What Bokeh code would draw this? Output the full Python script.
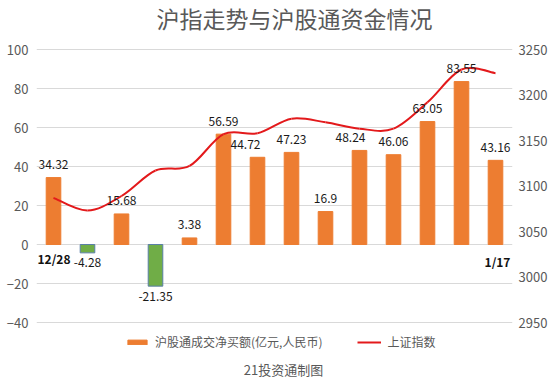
from bokeh.plotting import figure
from bokeh.models import (Range1d, LinearAxis, FixedTicker, Legend, LegendItem,
                          Label, ColumnDataSource)
from bokeh.core.properties import value
from bokeh.embed import file_html
from bokeh.resources import INLINE

# ---------------- data ----------------
dates = ["12/28", "12/29", "1/2", "1/3", "1/4", "1/5", "1/8", "1/9",
         "1/10", "1/11", "1/12", "1/15", "1/16", "1/17"]
net_buy = [34.32, -4.28, 15.68, -21.35, 3.38, 56.59, 44.72, 47.23,
           16.9, 48.24, 46.06, 63.05, 83.55, 43.16]
sse_index = [3087, 3073, 3089, 3117, 3122, 3157, 3158, 3174,
             3170, 3163, 3163, 3192, 3228, 3224]
left_ticks = [-40, -20, 0, 20, 40, 60, 80, 100]
right_ticks = [2950, 3000, 3050, 3100, 3150, 3200, 3250]

title_text = "沪指走势与沪股通资金情况"
bar_name = "沪股通成交净买额(亿元,人民币)"
line_name = "上证指数"
footer_text = "21投资通制图"

FONT = "Noto Sans CJK SC"
GREY = "#595959"
ORANGE = "#ED7D31"
GREEN = "#70AD47"
RED = "#E3191B"

W, H = 557, 386
PLOT_TOP, PLOT_BOTTOM = 49, 322          # pixel rows of the 100 / -40 gridlines
n = len(dates)
idx = list(range(n))

# the frame spans the full height; the value ranges are padded so that the
# gridlines land at PLOT_TOP / PLOT_BOTTOM and title/legend fit inside it
def padded(lo, hi):
    per_px = (hi - lo) / (PLOT_BOTTOM - PLOT_TOP)
    return Range1d(lo - (H - PLOT_BOTTOM) * per_px, hi + PLOT_TOP * per_px)

p = figure(width=W, height=H, output_backend="svg", toolbar_location=None,
           x_range=Range1d(-0.5, n - 0.5),
           y_range=padded(left_ticks[0], left_ticks[-1]),
           x_axis_location=None, y_axis_location=None,
           min_border_left=36, min_border_right=45,
           min_border_top=0, min_border_bottom=0)
p.outline_line_color = None
p.background_fill_color = "white"
p.border_fill_color = "white"
p.extra_y_ranges = {"right": padded(right_ticks[0], right_ticks[-1])}

# axes
la = LinearAxis(ticker=FixedTicker(ticks=left_ticks))
ra = LinearAxis(ticker=FixedTicker(ticks=right_ticks), y_range_name="right")
for ax in (la, ra):
    ax.axis_line_color = None
    ax.major_tick_line_color = None
    ax.minor_tick_line_color = None
    ax.major_tick_out = 0
    ax.major_tick_in = 0
    ax.major_label_text_font = FONT
    ax.major_label_text_font_size = "13px"
    ax.major_label_text_color = GREY
la.major_label_standoff = 8
ra.major_label_standoff = 6
p.add_layout(la, "left")
p.add_layout(ra, "right")

p.xgrid.visible = False
p.ygrid.ticker = FixedTicker(ticks=left_ticks)
p.ygrid.grid_line_color = "#d9d9d9"

# bars
colors = [ORANGE if v >= 0 else GREEN for v in net_buy]
edges = [ORANGE if v >= 0 else "#5a7fa8" for v in net_buy]
bsrc = ColumnDataSource(dict(x=idx, top=net_buy, fc=colors, lc=edges))
bars = p.vbar(x="x", top="top", bottom=0, width=0.43, source=bsrc,
              fill_color="fc", line_color="lc", line_width=1)

# smooth line (cubic bezier through the data points)
x0, y0, x1, y1, cx0, cy0, cx1, cy1 = [], [], [], [], [], [], [], []
for i in range(n - 1):
    a = max(i - 1, 0)
    d = min(i + 2, n - 1)
    x0.append(idx[i]); y0.append(sse_index[i])
    x1.append(idx[i + 1]); y1.append(sse_index[i + 1])
    cx0.append(idx[i] + (idx[i + 1] - idx[a]) / 6)
    cy0.append(sse_index[i] + (sse_index[i + 1] - sse_index[a]) / 6)
    cx1.append(idx[i + 1] - (idx[d] - idx[i]) / 6)
    cy1.append(sse_index[i + 1] - (sse_index[d] - sse_index[i]) / 6)
line = p.bezier(x0=x0, y0=y0, x1=x1, y1=y1, cx0=cx0, cy0=cy0, cx1=cx1, cy1=cy1,
                line_color=RED, line_width=2, y_range_name="right")

# value labels
label_dx = {6: -12, 9: -9}
lsrc = ColumnDataSource(dict(
    x=idx, y=net_buy,
    t=[("%g" % v) for v in net_buy],
    dy=[-13 if v >= 0 else 10 for v in net_buy],
    dx=[label_dx.get(i, 0) for i in idx],
))
p.text(x="x", y="y", text="t", source=lsrc, x_offset="dx", y_offset="dy",
       text_align="center", text_baseline="middle",
       text_font=value(FONT), text_font_size="12px", text_color="#1a1a1a")

# first / last date labels
dsrc = ColumnDataSource(dict(x=[idx[0], idx[-1]], y=[0, 0],
                             t=[dates[0], dates[-1]], dx=[-16, 2], dy=[14, 17],
                             al=["left", "center"]))
p.text(x="x", y="y", text="t", source=dsrc, x_offset="dx", y_offset="dy",
       text_align="al", text_baseline="middle",
       text_font=value(FONT), text_font_size="12px", text_font_style="bold",
       text_color="#111111")

# legend (inside the padded frame, below the gridded area)
legend = Legend(items=[LegendItem(label=bar_name, renderers=[bars], index=0),
                       LegendItem(label=line_name, renderers=[line])],
                orientation="horizontal", location=(89, 36),
                margin=0, padding=0, spacing=35,
                glyph_width=24, glyph_height=6, label_standoff=6,
                label_text_font=FONT, label_text_font_size="12px",
                label_text_color=GREY, label_height=14,
                background_fill_alpha=0, border_line_alpha=0)
p.add_layout(legend, "center")

# title and footer (screen units relative to the frame's bottom-left)
p.add_layout(Label(x=258, y=369, x_units="screen", y_units="screen",
                   text=title_text, text_align="center", text_baseline="middle",
                   text_font=FONT, text_font_size="23px", text_color=GREY))
p.add_layout(Label(x=247, y=17, x_units="screen", y_units="screen",
                   text=footer_text, text_align="center", text_baseline="middle",
                   text_font=FONT, text_font_size="13px", text_color=GREY))

open("out.html", "w").write(file_html(p, INLINE))
